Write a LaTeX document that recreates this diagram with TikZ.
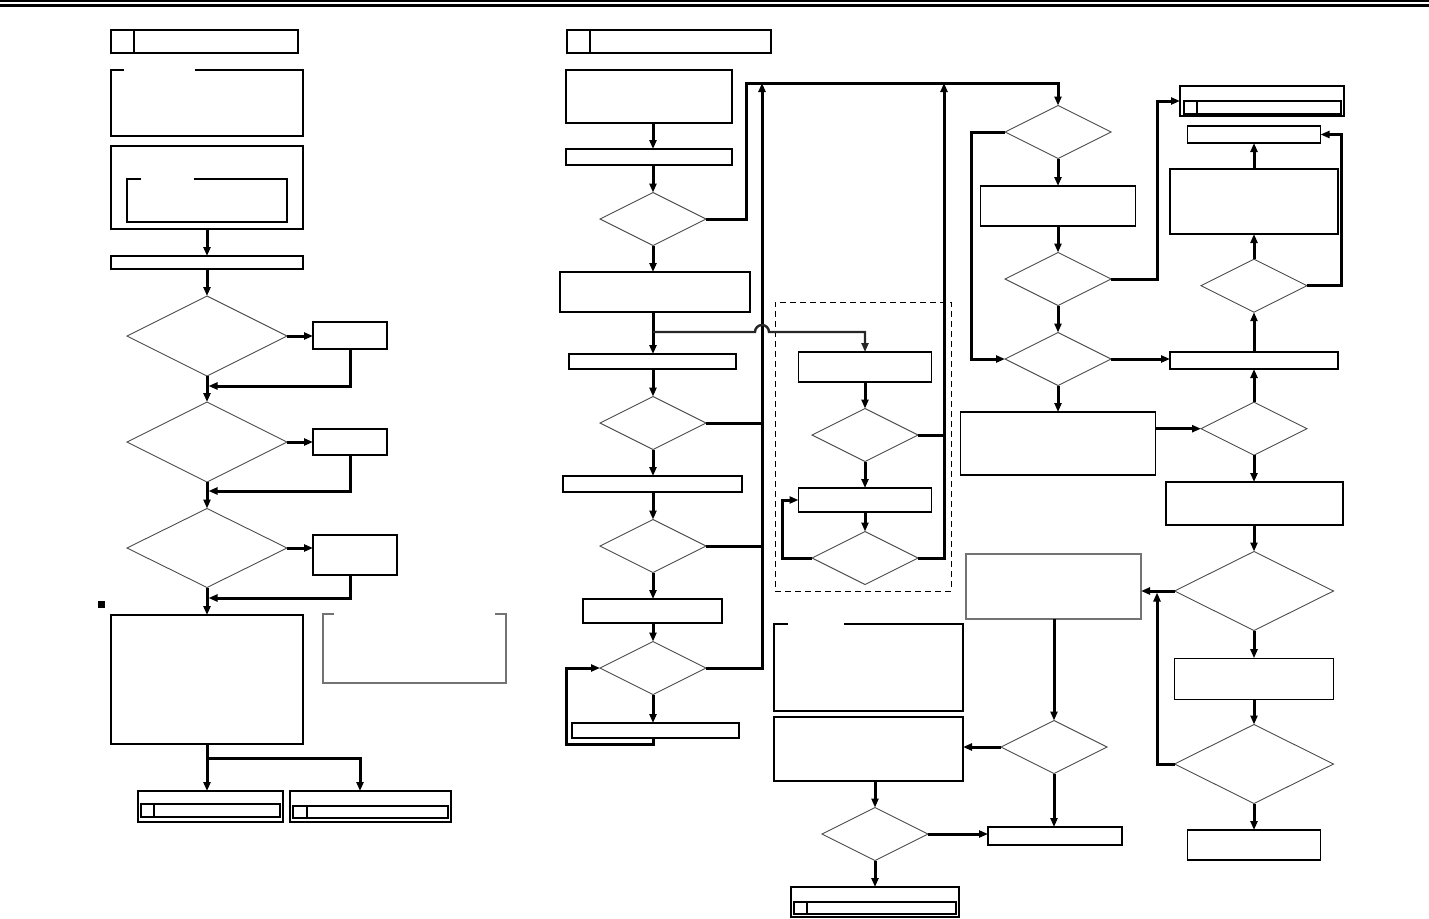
\documentclass[tikz,border=0pt]{standalone}
\usetikzlibrary{arrows.meta,shapes.geometric}
\begin{document}
\begin{tikzpicture}[x=1pt,y=-1pt,>={Triangle[length=9pt,width=7pt]},
    frame/.style={inner sep=0pt,outer sep=0pt,line width=1.25pt},
    box/.style={frame,draw},
    greybox/.style={frame,draw=black!55},
    dec/.style={diamond,inner sep=0pt,outer sep=0pt,draw=black!70,line width=0.9pt},
    flow/.style={->,line width=3pt},
    link/.style={line width=3pt}]
    \useasboundingbox (0,0) rectangle (1429,918);
    \draw[line width=1.2pt](0,1)--(1429,1);
    \draw[line width=3pt](0,5.5)--(1429,5.5);

    % left column
    \node[box,minimum width=187pt,minimum height=23pt] (aH) at (204.5,41.5) {};
    \draw[line width=1.25pt]([xshift=23pt]aH.north west)--([xshift=23pt]aH.south west);
    \node[frame,minimum width=192pt,minimum height=66pt] (a1) at (207,103) {};
    \draw[line width=1.25pt]([xshift=13pt]a1.north west)-|(a1.south west)-|(a1.north east)--([xshift=84pt]a1.north west);
    \node[box,minimum width=192pt,minimum height=83pt] (a2) at (207,187.5) {};
    \node[frame,minimum width=160pt,minimum height=43pt] (a2i) at (207,200.5) {};
    \draw[line width=1.25pt]([xshift=14pt]a2i.north west)-|(a2i.south west)-|(a2i.north east)--([xshift=67pt]a2i.north west);
    \node[box,minimum width=192pt,minimum height=13pt] (a3) at (207,262.5) {};
    \node[dec,minimum width=160pt,minimum height=80pt] (ad1) at (207,336) {};
    \node[box,minimum width=74pt,minimum height=27pt] (as1) at (350,335.5) {};
    \node[dec,minimum width=160pt,minimum height=80pt] (ad2) at (207,442) {};
    \node[box,minimum width=74pt,minimum height=26pt] (as2) at (350,442) {};
    \node[dec,minimum width=160pt,minimum height=79pt] (ad3) at (207,548) {};
    \node[box,minimum width=84pt,minimum height=40pt] (as3) at (355,555) {};
    \fill(98,601)rectangle(105,608);
    \node[box,minimum width=192pt,minimum height=129pt] (a4) at (207,679.5) {};
    \node[frame,minimum width=183pt,minimum height=69pt] (an) at (414.5,648.5) {};
    \draw[line width=1.25pt,black!55]([xshift=11pt]an.north west)-|(an.south west)-|(an.north east)--([xshift=-11pt]an.north east);
    \node[box,minimum width=145pt,minimum height=31pt] (aE1) at (210.5,806.5) {};
    \node[box,minimum width=139pt,minimum height=13pt] (aE1i) at (210.5,810.5) {};
    \draw[line width=1.25pt]([xshift=13pt]aE1i.north west)--([xshift=13pt]aE1i.south west);
    \node[box,minimum width=161pt,minimum height=31pt] (aE2) at (370.5,806.5) {};
    \node[box,minimum width=155pt,minimum height=12pt] (aE2i) at (370.5,812) {};
    \draw[line width=1.25pt]([xshift=14pt]aE2i.north west)--([xshift=14pt]aE2i.south west);
    \coordinate (r1) at (208.5,386);
    \coordinate (r2) at (208.5,491);
    \coordinate (r3) at (208.5,598);
    \coordinate (as) at (207,758);

    \draw[flow](a2.south)--(a3.north);
    \draw[flow](a3.south)--(ad1.north);
    \draw[flow](ad1.east)--(ad1.east-|as1.west);
    \draw[flow](as1.south)|-(r1);
    \draw[flow](ad1.south)--(ad2.north);
    \draw[flow](ad2.east)--(ad2.east-|as2.west);
    \draw[flow](as2.south)|-(r2);
    \draw[flow](ad2.south)--(ad3.north);
    \draw[flow](ad3.east)--(ad3.east-|as3.west);
    \draw[flow]([xshift=-5pt]as3.south)|-(r3);
    \draw[flow](ad3.south)--(a4.north);
    \draw[flow](a4.south)--(a4.south|-aE1.north);
    \draw[flow](as)-|([xshift=-10.5pt]aE2.north);

    % second column
    \node[box,minimum width=204pt,minimum height=23pt] (bH) at (669,41.5) {};
    \draw[line width=1.25pt]([xshift=23pt]bH.north west)--([xshift=23pt]bH.south west);
    \node[box,minimum width=166pt,minimum height=53pt] (b1) at (649,96.5) {};
    \node[box,minimum width=166pt,minimum height=16pt] (b2) at (649,157) {};
    \node[dec,minimum width=106pt,minimum height=53pt] (bd1) at (653,219) {};
    \node[box,minimum width=190pt,minimum height=40pt] (b3) at (655,292) {};
    \node[box,minimum width=167pt,minimum height=15pt] (b4) at (652.5,361.5) {};
    \node[dec,minimum width=106pt,minimum height=53pt] (bd2) at (653,423) {};
    \node[box,minimum width=179pt,minimum height=16pt] (b5) at (652.5,484) {};
    \node[dec,minimum width=106pt,minimum height=53pt] (bd3) at (653,546) {};
    \node[box,minimum width=139pt,minimum height=24pt] (b6) at (652.5,611) {};
    \node[dec,minimum width=106pt,minimum height=53pt] (bd4) at (653,668) {};
    \node[box,minimum width=167pt,minimum height=15pt] (b7) at (655.5,730.5) {};
    \coordinate (bl) at (566,744);
    \coordinate (bj) at (653,332);
    \coordinate (tA) at (746,83);
    \coordinate (tB) at (762,83);
    \coordinate (tC) at (944,83);

    \draw[flow](b1.south-|bd1)--(b2.north-|bd1);
    \draw[flow](b2.south-|bd1)--(bd1.north);
    \draw[flow](bd1.south)--(b3.north-|bd1);
    \draw[flow](b3.south-|bd1)--(b4.north-|bd1);
    \draw[flow](b4.south-|bd2)--(bd2.north);
    \draw[flow](bd2.south)--(b5.north-|bd2);
    \draw[flow](b5.south-|bd3)--(bd3.north);
    \draw[flow](bd3.south)--(b6.north-|bd3);
    \draw[flow](b6.south-|bd4)--(bd4.north);
    \draw[flow](bd4.south)--(b7.north-|bd4);
    \draw[flow](b7.south-|bd4)|-(bl)|-(bd4.west);
    \draw[flow](bd4.east)-|(tB);
    \draw[link](bd2.east)--(bd2.east-|tB);
    \draw[link](bd3.east)--(bd3.east-|tB);

    % dashed group
    \node[frame,draw,line width=1pt,dash pattern=on 6pt off 4pt,minimum width=176pt,minimum height=289pt] (cg) at (863,446.5) {};
    \node[box,minimum width=133pt,minimum height=30pt] (c1) at (865,367) {};
    \node[dec,minimum width=106pt,minimum height=53pt] (cd1) at (865,435) {};
    \node[box,minimum width=133pt,minimum height=24pt] (c2) at (865,500) {};
    \node[dec,minimum width=106pt,minimum height=53pt] (cd2) at (865,558) {};
    \coordinate (cl) at (782,558);
    \draw[->,line width=2.4pt,black!85](bj)--([xshift=-7pt]bj-|tB)arc[start angle=180,end angle=0,radius=7pt]-|(c1.north);
    \draw[flow](c1.south)--(cd1.north);
    \draw[flow](cd1.south)--(c2.north);
    \draw[flow](c2.south)--(cd2.north);
    \draw[flow](cd2.west)--(cl)|-(c2.west);
    \draw[flow](cd2.east)-|(tC);
    \draw[link](cd1.east)--(cd1.east-|tC);

    % third column
    \node[dec,minimum width=106pt,minimum height=53pt] (dd1) at (1058,132) {};
    \node[box,minimum width=155pt,minimum height=40pt] (d1) at (1058,206) {};
    \node[dec,minimum width=106pt,minimum height=53pt] (dd2) at (1058,279) {};
    \node[dec,minimum width=106pt,minimum height=53pt] (dd3) at (1058,359) {};
    \node[box,minimum width=195pt,minimum height=63pt] (d2) at (1058,443.5) {};
    \node[greybox,minimum width=175pt,minimum height=65pt] (d3) at (1053.5,586.5) {};
    \node[dec,minimum width=106pt,minimum height=53pt] (dd4) at (1054,747) {};
    \node[box,minimum width=134pt,minimum height=18pt] (d5) at (1055,836) {};
    \coordinate (dl) at (971,132);
    \draw[flow](bd1.east)-|(tA)-|(dd1.north);

    % lower middle
    \node[frame,minimum width=189pt,minimum height=87pt] (f1) at (868.5,667.5) {};
    \draw[line width=1.25pt]([xshift=14pt]f1.north west)-|(f1.south west)-|(f1.north east)--([xshift=70pt]f1.north west);
    \node[box,minimum width=189pt,minimum height=64pt] (f2) at (868.5,749) {};
    \node[dec,minimum width=106pt,minimum height=53pt] (fd) at (875,834) {};
    \node[box,minimum width=168pt,minimum height=30pt] (f3) at (875,902) {};
    \node[box,minimum width=162pt,minimum height=12pt] (f3i) at (875,908) {};
    \draw[line width=1.25pt]([xshift=13pt]f3i.north west)--([xshift=13pt]f3i.south west);

    % right column
    \node[box,minimum width=164pt,minimum height=30pt] (e0) at (1262,101) {};
    \node[box,minimum width=157pt,minimum height=13pt] (e0i) at (1262.5,107.5) {};
    \draw[line width=1.25pt]([xshift=13pt]e0i.north west)--([xshift=13pt]e0i.south west);
    \node[box,minimum width=133pt,minimum height=17pt] (e1) at (1254,134.5) {};
    \node[box,minimum width=168pt,minimum height=65pt] (e2) at (1254,201.5) {};
    \node[dec,minimum width=106pt,minimum height=53pt] (ed2) at (1254,285.7) {};
    \node[box,minimum width=168pt,minimum height=17pt] (e4) at (1254,360.5) {};
    \node[dec,minimum width=106pt,minimum height=53pt] (ed3) at (1254,428.7) {};
    \node[box,minimum width=177pt,minimum height=43pt] (e5) at (1254.5,503.5) {};
    \node[dec,minimum width=159pt,minimum height=79pt] (ed6) at (1254,591) {};
    \node[box,minimum width=159pt,minimum height=41pt] (e7) at (1254,678.7) {};
    \node[dec,minimum width=159pt,minimum height=79pt] (ed8) at (1254,764) {};
    \node[box,minimum width=133pt,minimum height=30pt] (e9) at (1254,845) {};
    \coordinate (el) at (1157,764);

    \draw[flow](dd1.south)--(d1.north);
    \draw[flow](d1.south)--(dd2.north);
    \draw[flow](dd2.south)--(dd3.north);
    \draw[flow](dd3.south)--(d2.north);
    \draw[flow](dd1.west)--(dl)|-(dd3.west);
    \draw[flow](dd2.east)-|([xshift=-23pt]e0.west)--(e0.west);
    \draw[flow](dd3.east)--(dd3.east-|e4.west);
    \draw[flow](d2.east|-ed3)--(ed3.west);
    \draw[flow](d3.south-|dd4)--(dd4.north);
    \draw[flow](dd4.south)--(dd4.south|-d5.north);
    \draw[flow](dd4.west)--(dd4.west-|f2.east);
    \draw[flow](f2.south-|fd)--(fd.north);
    \draw[flow](fd.south)--(f3.north);
    \draw[flow](fd.east)--(fd.east-|d5.west);

    \draw[flow](e2.north)--(e1.south);
    \draw[flow](ed2.north)--(e2.south);
    \draw[flow](e4.north)--(ed2.south);
    \draw[flow](ed3.north)--(e4.south);
    \draw[flow](ed2.east)-|([xshift=21pt]e1.east)--(e1.east);
    \draw[flow](ed3.south)--(e5.north-|ed3);
    \draw[flow](e5.south-|ed6)--(ed6.north);
    \draw[flow](ed6.west)--(ed6.west-|d3.east);
    \draw[flow](ed6.south)--(e7.north);
    \draw[flow](e7.south)--(ed8.north);
    \draw[flow](ed8.south)--(e9.north);
    \draw[flow](ed8.west)--(el)--([yshift=-1.5pt]el|-ed6.west);
\end{tikzpicture}
\end{document}
